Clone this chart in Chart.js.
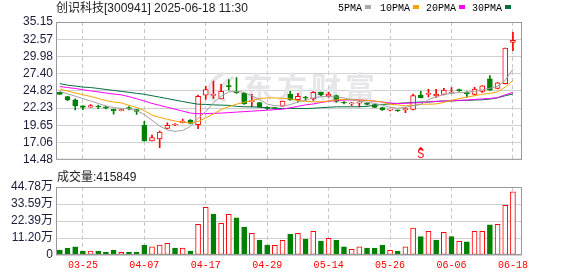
<!DOCTYPE html>
<html>
<head>
<meta charset="utf-8">
<script src="https://cdn.jsdelivr.net/npm/chart.js@4.4.1/dist/chart.umd.min.js"></script>
<style>
    html, body { margin: 0; padding: 0; background: #fff; }
    #wrap { position: relative; width: 578px; height: 276px; overflow: hidden;
        font-family: "Liberation Sans", "Noto Sans CJK SC", sans-serif; color: #222; }
    #priceBox { position: absolute; left: 0; top: 0; width: 578px; height: 170px; }
    #volBox { position: absolute; left: 0; top: 170px; width: 578px; height: 106px; }
    .txt { position: absolute; font-size: 12px; line-height: 14px; white-space: nowrap; }
    .leg { position: absolute; top: 2px; font: 10px "Liberation Mono", monospace; line-height: 14px; color: #000; }
    .leg i { display: inline-block; width: 6px; height: 4px; margin-left: 3px; vertical-align: 2px; }
</style>
</head>
<body>
<div id="wrap">
    <div id="priceBox"><canvas id="priceChart"></canvas></div>
    <div id="volBox"><canvas id="volChart"></canvas></div>
    <div class="txt" style="left:56px; top:1px;">创识科技[300941] 2025-06-18 11:30</div>
    <div class="leg" style="left:338px;">5PMA<i style="background:#aaaaaa"></i></div>
    <div class="leg" style="left:380px;">10PMA<i style="background:#f5a300"></i></div>
    <div class="leg" style="left:426px;">20PMA<i style="background:#ff00ff"></i></div>
    <div class="leg" style="left:472px;">30PMA<i style="background:#006f3c"></i></div>
    <div class="txt" style="left:57px; top:170px;">成交量:415849</div>
</div>
<script>
// trading days shown on the chart
const dates = [
    "03-20", "03-21", "03-24", "03-25", "03-26", "03-27", "03-28", "03-31",
    "04-01", "04-02", "04-03", "04-07", "04-08", "04-09", "04-10", "04-11",
    "04-14", "04-15", "04-16", "04-17", "04-18", "04-21", "04-22", "04-23",
    "04-24", "04-25", "04-28", "04-29", "04-30", "05-06", "05-07", "05-08",
    "05-09", "05-12", "05-13", "05-14", "05-15", "05-16", "05-19", "05-20",
    "05-21", "05-22", "05-23", "05-26", "05-27", "05-28", "05-29", "05-30",
    "06-03", "06-04", "06-05", "06-06", "06-09", "06-10", "06-11", "06-12",
    "06-13", "06-16", "06-17", "06-18",
];
const openP = [
    24.60, 23.98, 23.48, 22.57, 22.39, 22.46, 22.43, 22.04, 21.85, 22.25,
    22.00, 19.64, 17.33, 17.62, 19.20, 19.70, 20.05, 20.45, 19.75, 24.16,
    24.15, 23.63, 25.55, 24.70, 24.50, 23.20, 23.05, 22.30, 22.22, 22.53,
    24.35, 23.50, 23.80, 23.63, 24.60, 24.02, 24.10, 23.05, 22.88, 22.98,
    23.00, 22.77, 22.33, 21.93, 21.88, 22.00, 22.04, 24.20, 24.30, 24.06,
    24.27, 24.50, 24.95, 24.65, 24.27, 24.74, 26.62, 25.18, 25.90, 32.07,
];
const highP = [
    24.62, 24.00, 23.63, 22.62, 22.76, 22.67, 22.55, 22.10, 22.04, 22.45,
    22.05, 20.26, 18.19, 18.80, 20.02, 19.90, 20.60, 20.50, 24.20, 25.50,
    26.30, 25.80, 26.50, 26.80, 24.60, 24.30, 23.10, 22.45, 22.30, 23.30,
    24.75, 24.45, 24.00, 24.70, 24.65, 24.60, 24.20, 23.20, 23.10, 23.30,
    23.05, 22.80, 22.40, 22.05, 21.95, 22.33, 24.35, 24.75, 25.05, 25.05,
    25.20, 25.30, 25.10, 24.70, 25.35, 25.60, 27.10, 26.05, 31.25, 33.60,
];
const lowP = [
    24.27, 23.34, 21.95, 21.99, 22.35, 22.14, 22.10, 21.32, 21.81, 21.95,
    21.30, 17.28, 17.30, 16.31, 19.15, 19.60, 20.00, 19.85, 19.15, 23.55,
    23.70, 23.60, 24.95, 24.45, 22.80, 22.40, 22.35, 22.00, 22.10, 22.50,
    23.40, 23.15, 23.40, 23.40, 24.10, 23.85, 23.10, 22.85, 22.60, 22.43,
    22.70, 22.30, 21.90, 21.80, 21.75, 21.56, 21.95, 23.75, 23.90, 23.85,
    24.20, 24.45, 24.75, 23.90, 24.20, 24.60, 24.90, 25.10, 25.85, 30.85,
];
const closeP = [
    24.30, 23.48, 22.57, 22.33, 22.62, 22.40, 22.24, 21.81, 22.02, 22.18,
    21.75, 17.30, 17.80, 18.63, 19.64, 19.76, 20.30, 19.93, 24.00, 25.03,
    24.25, 24.74, 25.45, 24.55, 22.90, 23.35, 22.45, 22.20, 22.18, 23.30,
    23.50, 24.00, 23.75, 24.60, 24.20, 24.35, 23.25, 23.00, 22.92, 23.02,
    22.77, 22.33, 21.95, 21.97, 21.84, 22.05, 24.12, 23.80, 24.45, 24.35,
    24.93, 24.55, 24.85, 24.35, 25.07, 25.57, 24.93, 26.04, 31.25, 32.40,
];
// moving averages
const ma5 = [
    24.74, 24.38, 24.02, 23.66, 23.30, 22.94, 22.55, 22.33, 22.18, 22.11,
    21.85, 21.27, 20.41, 19.54, 18.96, 18.74, 18.89, 19.47, 20.70, 21.71,
    23.01, 24.02, 24.67, 24.74, 24.60, 24.09, 23.51, 22.82, 22.60, 22.55,
    22.75, 23.15, 23.44, 23.76, 23.95, 23.98, 23.90, 23.76, 23.51, 23.27,
    23.11, 22.94, 22.68, 22.36, 22.21, 22.36, 22.57, 22.79, 23.51, 23.95,
    24.24, 24.45, 24.55, 24.60, 24.74, 24.96, 25.21, 25.51, 26.40, 28.07,
];
const ma10 = [
    25.07, 24.79, 24.50, 24.24, 23.98, 23.69, 23.37, 23.15, 23.01, 22.65,
    22.33, 21.85, 21.20, 20.84, 20.55, 20.30, 20.12, 20.00, 20.22, 20.77,
    21.35, 22.00, 22.46, 22.82, 23.11, 23.37, 23.66, 23.77, 23.76, 23.70,
    23.63, 23.37, 23.25, 23.18, 23.18, 23.30, 23.48, 23.54, 23.51, 23.44,
    23.40, 23.30, 23.15, 22.82, 22.72, 22.57, 22.65, 22.82, 22.82, 22.86,
    23.08, 23.40, 23.66, 23.88, 24.09, 24.31, 24.45, 24.67, 25.39, 26.38,
];
const ma20 = [
    25.47, 25.32, 25.18, 24.99, 24.82, 24.66, 24.50, 24.35, 24.22, 23.95,
    23.64, 23.30, 22.94, 22.65, 22.36, 22.07, 21.78, 21.49, 21.39, 21.42,
    21.45, 21.49, 21.56, 21.63, 21.71, 21.78, 21.85, 21.92, 22.00, 22.07,
    22.29, 22.50, 22.72, 22.86, 23.08, 23.25, 23.37, 23.44, 23.47, 23.44,
    23.37, 23.27, 23.15, 23.01, 22.91, 22.96, 23.01, 23.05, 23.15, 23.25,
    23.30, 23.34, 23.40, 23.44, 23.54, 23.61, 23.69, 23.80, 24.24, 24.60,
];
const ma30 = [
    25.90, 25.68, 25.54, 25.39, 25.32, 25.18, 25.03, 24.89, 24.74, 24.60,
    24.45, 24.31, 24.09, 23.88, 23.66, 23.44, 23.22, 23.01, 22.82, 22.79,
    22.72, 22.68, 22.65, 22.50, 22.43, 22.43, 22.36, 22.29, 22.21, 22.18,
    22.18, 22.18, 22.18, 22.21, 22.29, 22.36, 22.43, 22.43, 22.43, 22.43,
    22.50, 22.65, 22.79, 22.86, 22.94, 23.01, 23.08, 23.15, 23.15, 23.22,
    23.30, 23.30, 23.37, 23.40, 23.44, 23.48, 23.59, 23.77, 24.09, 24.35,
];
// volume (lots) and the colour of each volume bar: u = red, d = green
const volume = [
    33000, 46000, 53000, 26000, 26000, 26000, 20000, 33000, 18000, 20000,
    20000, 66000, 53000, 66000, 77000, 46000, 46000, 26000, 202000, 314000,
    270000, 209000, 268000, 244000, 184000, 143000, 99000, 66000, 64000, 97000,
    138000, 143000, 105000, 156000, 92000, 110000, 97000, 53000, 37000, 53000,
    46000, 46000, 66000, 31000, 26000, 53000, 178000, 121000, 156000, 99000,
    149000, 121000, 90000, 86000, 156000, 156000, 198000, 202000, 327000, 415849,
];
const volDir = "ddddudddud" + "dduuududuu" + "duuddudduu" + "dudududduu" + "ddduduudud" + "ududuuduuu";

const priceTicks = [14.48, 17.06, 19.65, 22.23, 24.82, 27.40, 29.98, 32.57, 35.15];
const priceTickLabels = ["14.48", "17.06", "19.65", "22.23", "24.82", "27.40", "29.98", "32.57", "35.15"];
const volTicks = [0, 111950, 223900, 335850, 447800];
const volTickLabels = ["0", "11.20万", "22.39万", "33.59万", "44.78万"];
const dateTicks = ["03-25", "04-07", "04-17", "04-29", "05-14", "05-26", "06-06", "06-18"];
const signalDate = "05-30";

const UP = "#ff0000";
const DOWN = "#008000";
const labelFont = { family: "'Liberation Sans', 'Noto Sans CJK SC', sans-serif", size: 12 };
const tickIdx = dateTicks.map((d) => dates.indexOf(d));

// shared x axis settings, index based so both panels line up
function xAxis(showLabels) {
    return {
        type: "linear",
        min: -0.5,
        max: 60.18,
        offset: false,
        afterBuildTicks: (scale) => {
            scale.ticks = tickIdx.map((v) => ({ value: v }));
        },
        afterFit: (scale) => {
            scale.height = showLabels ? 21 : 0;
        },
        ticks: {
            display: showLabels,
            autoSkip: false,
            maxRotation: 0,
            padding: 4,
            color: UP,
            font: { family: "'Liberation Mono', monospace", size: 10 },
            callback: (v) => dates[v],
        },
        grid: { color: "#c8c8c8", drawTicks: false, offset: false },
        border: { display: false, dash: [4, 3] },
    };
}

// y axis with fixed tick values and their printed labels
function yAxis(min, max, ticks, labels) {
    return {
        min: min,
        max: max,
        afterBuildTicks: (scale) => {
            scale.ticks = ticks.map((v) => ({ value: v }));
        },
        afterFit: (scale) => {
            scale.width = 56;
        },
        ticks: {
            color: "#1c1c3c",
            padding: 3,
            autoSkip: false,
            callback: (v, i) => labels[i],
        },
        grid: { color: "#d0d0d0", drawTicks: false },
        border: { display: false },
    };
}

// grey frame round the plot area
const frame = {
    id: "frame",
    afterDraw(chart) {
        const { ctx, chartArea } = chart;
        ctx.save();
        ctx.strokeStyle = "#999";
        ctx.lineWidth = 1;
        ctx.strokeRect(chartArea.left + 0.5, chartArea.top + 0.5,
            chartArea.right - chartArea.left - 1, chartArea.bottom - chartArea.top - 1);
        ctx.restore();
    },
};

// faint logo behind the candles
const watermark = {
    id: "watermark",
    beforeDatasetsDraw(chart) {
        const { ctx } = chart;
        ctx.save();
        ctx.fillStyle = "#e6e6ea";
        ctx.strokeStyle = "#e6e6ea";
        ctx.lineWidth = 4;
        ctx.lineCap = "round";
        // flame mark
        ctx.beginPath();
        ctx.moveTo(214, 100);
        ctx.quadraticCurveTo(202, 86, 222, 74);
        ctx.stroke();
        ctx.beginPath();
        ctx.moveTo(224, 100);
        ctx.quadraticCurveTo(214, 88, 232, 78);
        ctx.stroke();
        ctx.font = "bold 30px 'Noto Sans CJK SC'";
        ctx.letterSpacing = "4px";
        ctx.textBaseline = "middle";
        ctx.fillText("东方财富", 243, 87);
        ctx.restore();
    },
};

// the red "S" signal under one candle
const signalMarker = {
    id: "signalMarker",
    afterDatasetsDraw(chart) {
        const { ctx, chartArea, scales } = chart;
        const x = scales.x.getPixelForValue(dates.indexOf(signalDate));
        const b = chartArea.bottom;
        ctx.save();
        ctx.fillStyle = UP;
        ctx.beginPath();
        ctx.moveTo(x, b - 13);
        ctx.lineTo(x - 3, b - 10);
        ctx.lineTo(x + 3, b - 10);
        ctx.closePath();
        ctx.fill();
        ctx.font = "12px 'Liberation Mono'";
        ctx.textAlign = "center";
        ctx.textBaseline = "bottom";
        ctx.fillText("S", x, b + 1);
        ctx.restore();
    },
};

const isUp = closeP.map((c, i) => c >= openP[i]);

function maLine(values, colour) {
    return {
        type: "line",
        data: values.map((v, i) => ({ x: i, y: v })),
        borderColor: colour,
        borderWidth: 1,
        pointRadius: 0,
        tension: 0,
        order: 0,
    };
}

Chart.defaults.font = labelFont;
Chart.defaults.animation = false;

new Chart(document.getElementById("priceChart"), {
    type: "bar",
    data: {
        datasets: [
            {
                // wicks
                data: dates.map((d, i) => ({ x: i, y: [lowP[i], highP[i]] })),
                backgroundColor: isUp.map((u) => (u ? UP : DOWN)),
                borderWidth: 0,
                barThickness: 1,
                grouped: false,
                order: 3,
            },
            {
                // bodies
                data: dates.map((d, i) => ({ x: i, y: [openP[i], closeP[i]] })),
                backgroundColor: isUp.map((u) => (u ? "#ffffff" : DOWN)),
                borderColor: isUp.map((u) => (u ? UP : DOWN)),
                borderWidth: 1,
                borderSkipped: false,
                barThickness: 5,
                minBarLength: 1,
                grouped: false,
                order: 2,
            },
            maLine(ma5, "#a0a0a0"),
            maLine(ma10, "#f5a300"),
            maLine(ma20, "#ff00ff"),
            maLine(ma30, "#006f3c"),
        ],
    },
    options: {
        responsive: true,
        maintainAspectRatio: false,
        layout: { padding: { left: 0, right: 56, top: 22, bottom: 5 } },
        scales: {
            x: xAxis(false),
            y: yAxis(14.48, 35.15, priceTicks, priceTickLabels),
        },
        plugins: { legend: { display: false }, tooltip: { enabled: false } },
    },
    plugins: [watermark, signalMarker, frame],
});

new Chart(document.getElementById("volChart"), {
    type: "bar",
    data: {
        datasets: [
            {
                data: volume.map((v, i) => ({ x: i, y: v })),
                backgroundColor: volume.map((v, i) => (volDir[i] === "u" ? "#ffffff" : DOWN)),
                borderColor: volume.map((v, i) => (volDir[i] === "u" ? UP : DOWN)),
                borderWidth: 1,
                borderSkipped: false,
                barThickness: 5,
                grouped: false,
            },
        ],
    },
    options: {
        responsive: true,
        maintainAspectRatio: false,
        layout: { padding: { left: 0, right: 56, top: 17, bottom: 0 } },
        scales: {
            x: xAxis(true),
            y: yAxis(0, 447800, volTicks, volTickLabels),
        },
        plugins: { legend: { display: false }, tooltip: { enabled: false } },
    },
    plugins: [frame],
});
</script>
</body>
</html>
